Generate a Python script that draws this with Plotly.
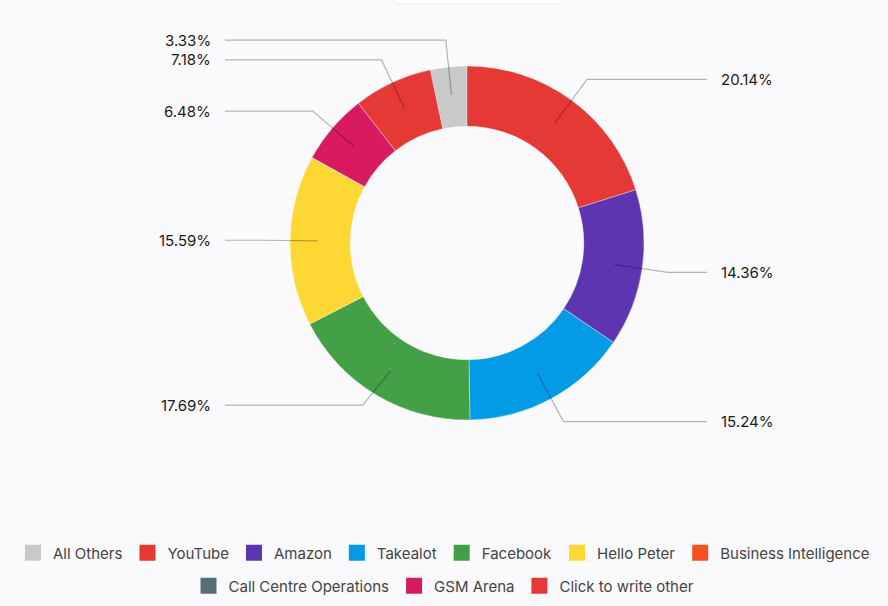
import math
import plotly.graph_objects as go

# ---------------- data ----------------
labels = ["All Others", "YouTube", "Amazon", "Takealot", "Facebook", "Hello Peter",
          "Business Intelligence", "Call Centre Operations", "GSM Arena", "Click to write other"]
values = [3.33, 20.14, 14.36, 15.24, 17.69, 15.59, 0.0, 0.0, 6.48, 7.18]
colors = ["#c9c9c9", "#e53935", "#5e35b1", "#039be5", "#43a047", "#fdd835",
          "#f4511e", "#546e7a", "#d81b60", "#e53935"]
legend_row = [1, 1, 1, 1, 1, 1, 1, 2, 2, 2]

# ---------------- layout / style ----------------
W, H = 888, 606
CX, CY = 467, 243          # pie centre in px
R_OUT = 177                # outer radius px
HOLE = 0.66
R_START = 149              # leader line start radius
R_KNEE = 203               # leader line knee radius
X_END_RIGHT, X_END_LEFT = 707, 225
X_LBL_RIGHT, X_LBL_LEFT = 720, 212
label_dy = {"Facebook": -12, "All Others": -1, "Click to write other": 1}
BG = "#fafafc"
LINE_COL = "rgba(0,0,0,0.28)"
FONT = "Inter, Roboto, Noto Sans, sans-serif"


def px(x):
    return x / W


def py(y):
    return 1 - y / H


total = sum(values)
rotation = -values[0] / total * 360  # first slice ends at 12 o'clock

fig = go.Figure(go.Pie(
    labels=labels, values=values, sort=False, direction="clockwise",
    rotation=rotation, hole=HOLE, textinfo="none", hoverinfo="label+percent",
    showlegend=False,
    marker=dict(colors=colors, line=dict(color="rgba(255,255,255,0.6)", width=0.6)),
    domain=dict(x=[px(CX - R_OUT), px(CX + R_OUT)], y=[py(CY + R_OUT), py(CY - R_OUT)]),
))

# legend entries (two centred rows)
for lab, col, row in zip(labels, colors, legend_row):
    fig.add_trace(go.Scatter(
        x=[None], y=[None], mode="markers", name=lab,
        marker=dict(symbol="square", size=16, color=col),
        legend="legend" if row == 1 else "legend2", hoverinfo="skip"))

shapes = []
annotations = []
cum = rotation
for lab, v in zip(labels, values):
    ang0 = cum
    cum += v / total * 360
    if v <= 0:
        continue
    mid = math.radians((ang0 + cum) / 2)
    sx, sy = CX + R_START * math.sin(mid), CY - R_START * math.cos(mid)
    kx, ky = CX + R_KNEE * math.sin(mid), CY - R_KNEE * math.cos(mid)
    ky += label_dy.get(lab, 0)
    right = math.sin(mid) >= 0
    ex = X_END_RIGHT if right else X_END_LEFT
    path = f"M {px(sx)},{py(sy)} L {px(kx)},{py(ky)} L {px(ex)},{py(ky)}"
    shapes.append(dict(type="path", xref="paper", yref="paper", path=path,
                       line=dict(color=LINE_COL, width=1.2)))
    annotations.append(dict(
        xref="paper", yref="paper", showarrow=False, borderpad=0,
        x=px(X_LBL_RIGHT if right else X_LBL_LEFT), y=py(ky),
        xanchor="left" if right else "right", yanchor="middle",
        text=f"{v / total * 100:.2f}%", font=dict(size=15, color="#1a1a1a", family=FONT)))

# faint card edge at the top
shapes.append(dict(type="rect", xref="paper", yref="paper", x0=px(395), x1=px(562),
                   y0=py(4), y1=py(-10), fillcolor="#ffffff",
                   line=dict(color="#ececee", width=1), layer="below"))

legend_common = dict(orientation="h", x=0.5, xanchor="center", yanchor="middle",
                     font=dict(size=15, color="#444444", family=FONT),
                     bgcolor="rgba(0,0,0,0)", itemclick=False, itemdoubleclick=False,
                     tracegroupgap=0)

fig.update_layout(
    width=W, height=H, margin=dict(l=0, r=0, t=0, b=0),
    paper_bgcolor=BG, plot_bgcolor=BG,
    font=dict(family=FONT, color="#333333", size=15),
    shapes=shapes, annotations=annotations,
    showlegend=True,
    xaxis=dict(visible=False), yaxis=dict(visible=False),
    legend=dict(y=py(553), **legend_common),
    legend2=dict(y=py(586), **legend_common),
)

fig.write_html("out.html", config={"displayModeBar": False},
               post_script="document.body.style.margin='0';")
